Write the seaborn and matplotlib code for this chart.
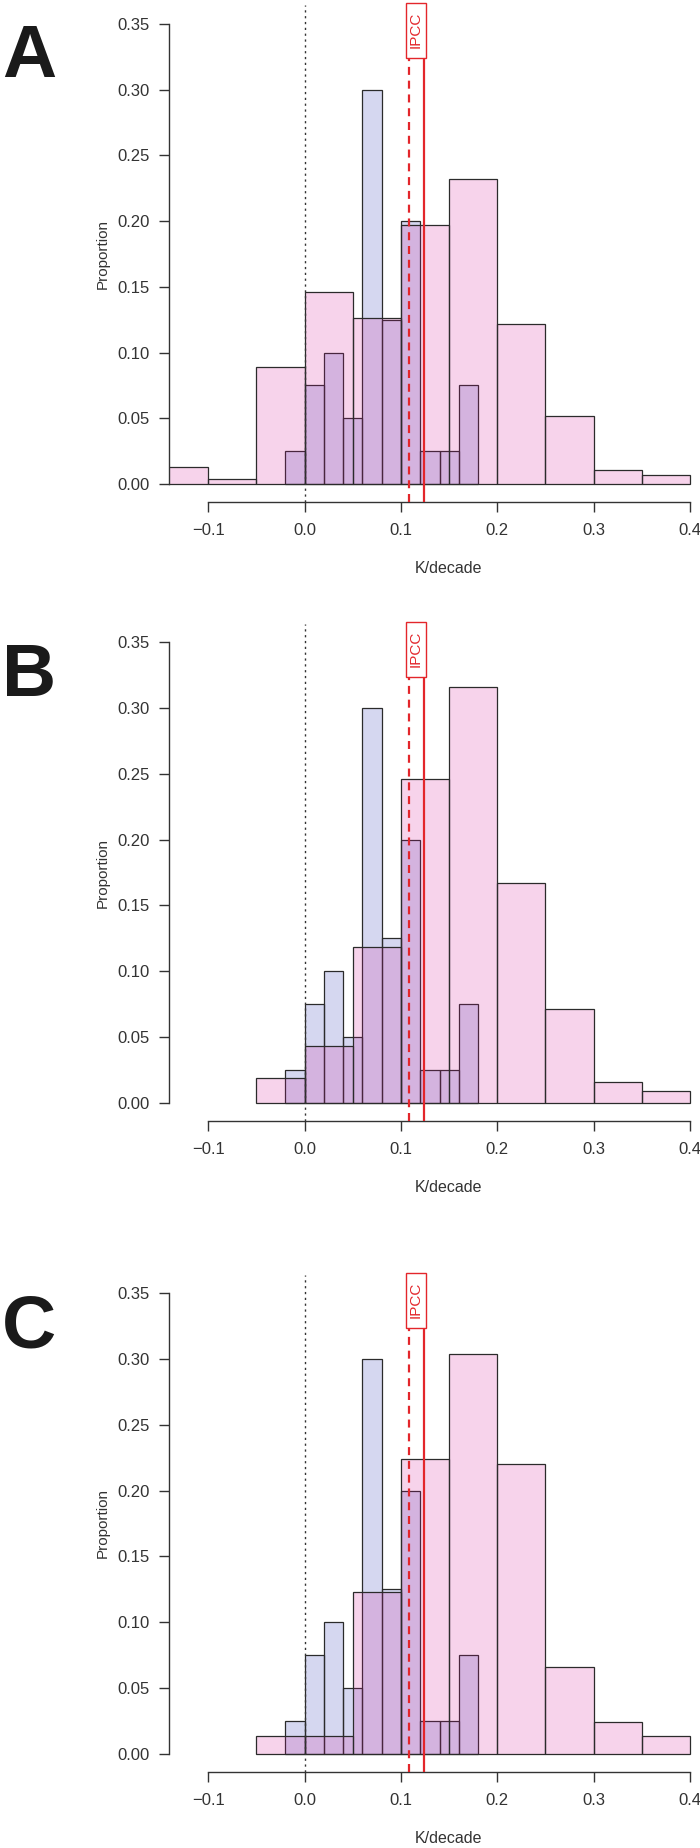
import numpy as np
import matplotlib
matplotlib.use("Agg")
import matplotlib.pyplot as plt
import matplotlib.transforms as mtransforms
from matplotlib.patches import Rectangle
import seaborn as sns

# Распределения трендов (K/decade): модели (голубые) и наблюдения (розовые)
model_edges = [-0.02, 0.00, 0.02, 0.04, 0.06, 0.08, 0.10, 0.12, 0.14, 0.16, 0.18]
model_props = [0.025, 0.075, 0.100, 0.050, 0.300, 0.125, 0.200, 0.025, 0.025, 0.075]

obs_edges_a = [-0.15, -0.10, -0.05, 0.00, 0.05, 0.10, 0.15, 0.20, 0.25, 0.30, 0.35, 0.40]
obs_props_a = [0.013, 0.004, 0.089, 0.146, 0.126, 0.197, 0.232, 0.122, 0.052, 0.011, 0.007]

obs_edges_b = [-0.05, 0.00, 0.05, 0.10, 0.15, 0.20, 0.25, 0.30, 0.35, 0.40]
obs_props_b = [0.019, 0.043, 0.118, 0.246, 0.316, 0.167, 0.071, 0.016, 0.009]

obs_edges_c = [-0.05, 0.00, 0.05, 0.10, 0.15, 0.20, 0.25, 0.30, 0.35, 0.40]
obs_props_c = [0.0135, 0.0135, 0.123, 0.224, 0.304, 0.220, 0.066, 0.024, 0.0135]

panel_labels = ["A", "B", "C"]
ipcc_lines = [0.1086, 0.1236]   # штриховая и сплошная красные линии

x_ticks = [-0.1, 0.0, 0.1, 0.2, 0.3, 0.4]
x_ticklabels = ["\u22120.1", "0.0", "0.1", "0.2", "0.3", "0.4"]
y_ticks = [0.00, 0.05, 0.10, 0.15, 0.20, 0.25, 0.30, 0.35]
y_ticklabels = ["0.00", "0.05", "0.10", "0.15", "0.20", "0.25", "0.30", "0.35"]

sns.set_style("ticks")
plt.rcParams["font.family"] = ["Liberation Sans", "DejaVu Sans"]

BLUE = (27 / 255, 38 / 255, 172 / 255)
PINK = (211 / 255, 16 / 255, 149 / 255)
RED = "#E3262B"
EDGE = "#2b2b2b"
TXT = "#333333"

W, H = 700, 1848
fig = plt.figure(figsize=(W / 100, H / 100), dpi=100)

panels = [
    (obs_edges_a, obs_props_a),
    (obs_edges_b, obs_props_b),
    (obs_edges_c, obs_props_c),
]
tops = [5.4, 624.0, 1275.0]
ax_h = 497.0
ax_left, ax_w = 169.0, 541.0

for (edges, props), top, label in zip(panels, tops, panel_labels):
    ax = fig.add_axes([ax_left / W, 1 - (top + ax_h) / H, ax_w / W, ax_h / H])

    m_centers = [(a + b) / 2 for a, b in zip(model_edges[:-1], model_edges[1:])]
    o_centers = [(a + b) / 2 for a, b in zip(edges[:-1], edges[1:])]

    sns.histplot(x=m_centers, weights=model_props, bins=model_edges, stat="count",
                 color=BLUE, alpha=0.18, edgecolor=EDGE, linewidth=0.9, ax=ax)
    sns.histplot(x=o_centers, weights=props, bins=edges, stat="count",
                 color=PINK, alpha=0.18, edgecolor=EDGE, linewidth=0.9, ax=ax)

    ax.set_xlim(-0.1408, 0.4208)
    ax.set_ylim(-0.014, 0.364)

    # нулевая линия и линии IPCC
    ax.axvline(0.0, color=TXT, lw=1.0, ls=(0, (1.6, 2.6)), zorder=3)
    ax.axvline(ipcc_lines[0], ymax=0.894, color=RED, lw=1.6, ls=(0, (3.6, 2.6)), zorder=4)
    ax.axvline(ipcc_lines[1], ymax=0.894, color=RED, lw=1.6, zorder=4)

    trans = mtransforms.blended_transform_factory(ax.transData, ax.transAxes)
    ax.add_patch(Rectangle((0.1049, 0.894), 0.0207, 0.110, transform=trans,
                           facecolor="white", edgecolor=RED, lw=1.0,
                           clip_on=False, zorder=5))
    ax.text(0.1153, 0.9505, "IPCC", transform=trans, rotation=90, color=RED,
            fontsize=11, ha="center", va="center", zorder=6)

    sns.despine(ax=ax)
    ax.spines["left"].set_bounds(0.0, 0.35)
    ax.spines["bottom"].set_bounds(-0.1, 0.4)
    for s in ("left", "bottom"):
        ax.spines[s].set_color(TXT)
        ax.spines[s].set_linewidth(1.0)

    ax.set_xticks(x_ticks)
    ax.set_xticklabels(x_ticklabels)
    ax.set_yticks(y_ticks)
    ax.set_yticklabels(y_ticklabels)
    ax.tick_params(axis="both", direction="out", length=7, width=1.0,
                   color=TXT, labelcolor=TXT, labelsize=12)
    ax.tick_params(axis="x", pad=8)
    ax.tick_params(axis="y", pad=7)

    ax.set_xlabel("K/decade", fontsize=11.5, color=TXT, va="center")
    ax.xaxis.set_label_coords(0.517, -0.1334)
    ax.set_ylabel("Proportion", fontsize=11, color=TXT, va="center")
    ax.yaxis.set_label_coords(-0.122, 0.5)

    fig.text(2 / W, 1 - (top + 72) / H, label, fontsize=54, fontweight="bold",
             color="#1a1a1a", ha="left", va="baseline")

fig.savefig("out.png", dpi=100)
plt.close(fig)
